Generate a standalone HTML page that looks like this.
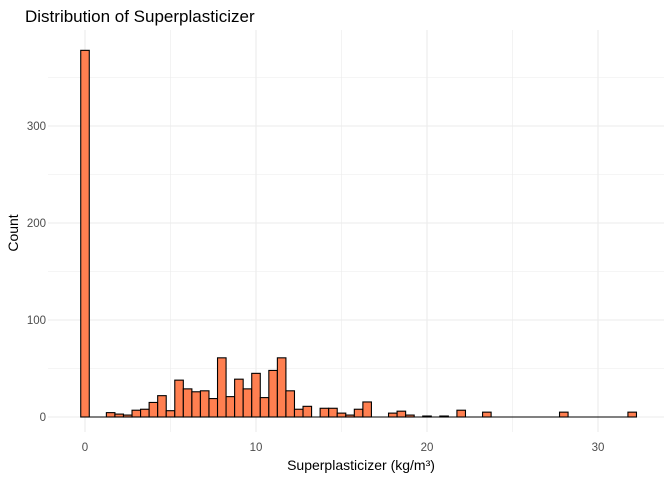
<!DOCTYPE html>
<html><head><meta charset="utf-8"><style>
body{margin:0;background:#fff;font-family:"Liberation Sans",sans-serif}
svg text{font-family:"Liberation Sans",sans-serif}
</style></head><body>
<svg id="c" width="672" height="480">
<text x="25" y="22" font-size="17" fill="#000">Distribution of Superplasticizer</text>
<text x="361" y="470" font-size="14" text-anchor="middle" fill="#000">Superplasticizer (kg/m³)</text>
<text transform="translate(18,233) rotate(-90)" font-size="14" text-anchor="middle" fill="#000">Count</text>
<g id="grid"></g><g id="bars"></g><g id="ticks"></g>
</svg>
<script>
const binCenters=[0,1.5,2,2.5,3,3.5,4,4.5,5,5.5,6,6.5,7,7.5,8,8.5,9,9.5,10,10.5,11,11.5,12,12.5,13,14,14.5,15,15.5,16,16.5,18,18.5,19,20,21,22,23.5,28,32];
const counts=[378,4.5,3,2,7,8,15,22,6.5,38,29,26,27,19,61,21,39,29,45,20,48,61,27,8,11,9,9,4,2,8,15.5,4,6,2,1,1,7,5,5,5];
const xTicks=[0,10,20,30];
const yTicks=[0,100,200,300];
const binWidth=0.5;
const NS="http://www.w3.org/2000/svg";
const X=v=>85+v*17.1, Y=v=>417-v*0.97;
const L=48,R=664,T=30,B=432;
const grid=document.getElementById('grid'),bars=document.getElementById('bars'),tk=document.getElementById('ticks');
function ln(x1,y1,x2,y2,w){const l=document.createElementNS(NS,'line');l.setAttribute('x1',x1);l.setAttribute('y1',y1);l.setAttribute('x2',x2);l.setAttribute('y2',y2);l.setAttribute('stroke','#ebebeb');l.setAttribute('stroke-width',w);


grid.appendChild(l);}
for(let i=0;i<xTicks.length;i++){ln(X(xTicks[i]),T,X(xTicks[i]),B,1.1);if(i<xTicks.length-1){const m=(xTicks[i]+xTicks[i+1])/2;ln(X(m),T,X(m),B,0.6);}}
ln(X(-5),T,X(-5),B,0.6);
for(let i=0;i<yTicks.length;i++){ln(L,Y(yTicks[i]),R,Y(yTicks[i]),1.1);const m=yTicks[i]+50;ln(L,Y(m),R,Y(m),0.6);}
const base=document.createElementNS(NS,'line');base.setAttribute('x1',X(binCenters[0]-binWidth/2));base.setAttribute('x2',X(binCenters[binCenters.length-1]+binWidth/2));base.setAttribute('y1',Y(0));base.setAttribute('y2',Y(0));base.setAttribute('stroke','#000');base.setAttribute('stroke-width',1);


bars.appendChild(base);
binCenters.forEach((c,i)=>{const r=document.createElementNS(NS,'rect');const x0=X(c-binWidth/2),x1=X(c+binWidth/2);
r.setAttribute('x',x0);r.setAttribute('width',x1-x0);r.setAttribute('y',Y(counts[i]));r.setAttribute('height',Y(0)-Y(counts[i]));
r.setAttribute('fill','#ff7f50');r.setAttribute('stroke','#000');r.setAttribute('stroke-width',1.1);


bars.appendChild(r);});
xTicks.forEach(v=>{const t=document.createElementNS(NS,'text');t.setAttribute('x',X(v));t.setAttribute('y',451);t.setAttribute('text-anchor','middle');t.setAttribute('font-size','11.5');t.setAttribute('fill','#4d4d4d');t.textContent=v;


tk.appendChild(t);});
yTicks.forEach(v=>{const t=document.createElementNS(NS,'text');t.setAttribute('x',46);t.setAttribute('y',Y(v)+4);t.setAttribute('text-anchor','end');t.setAttribute('font-size','11.5');t.setAttribute('fill','#4d4d4d');t.textContent=v;


tk.appendChild(t);});
</script>
</body></html>
